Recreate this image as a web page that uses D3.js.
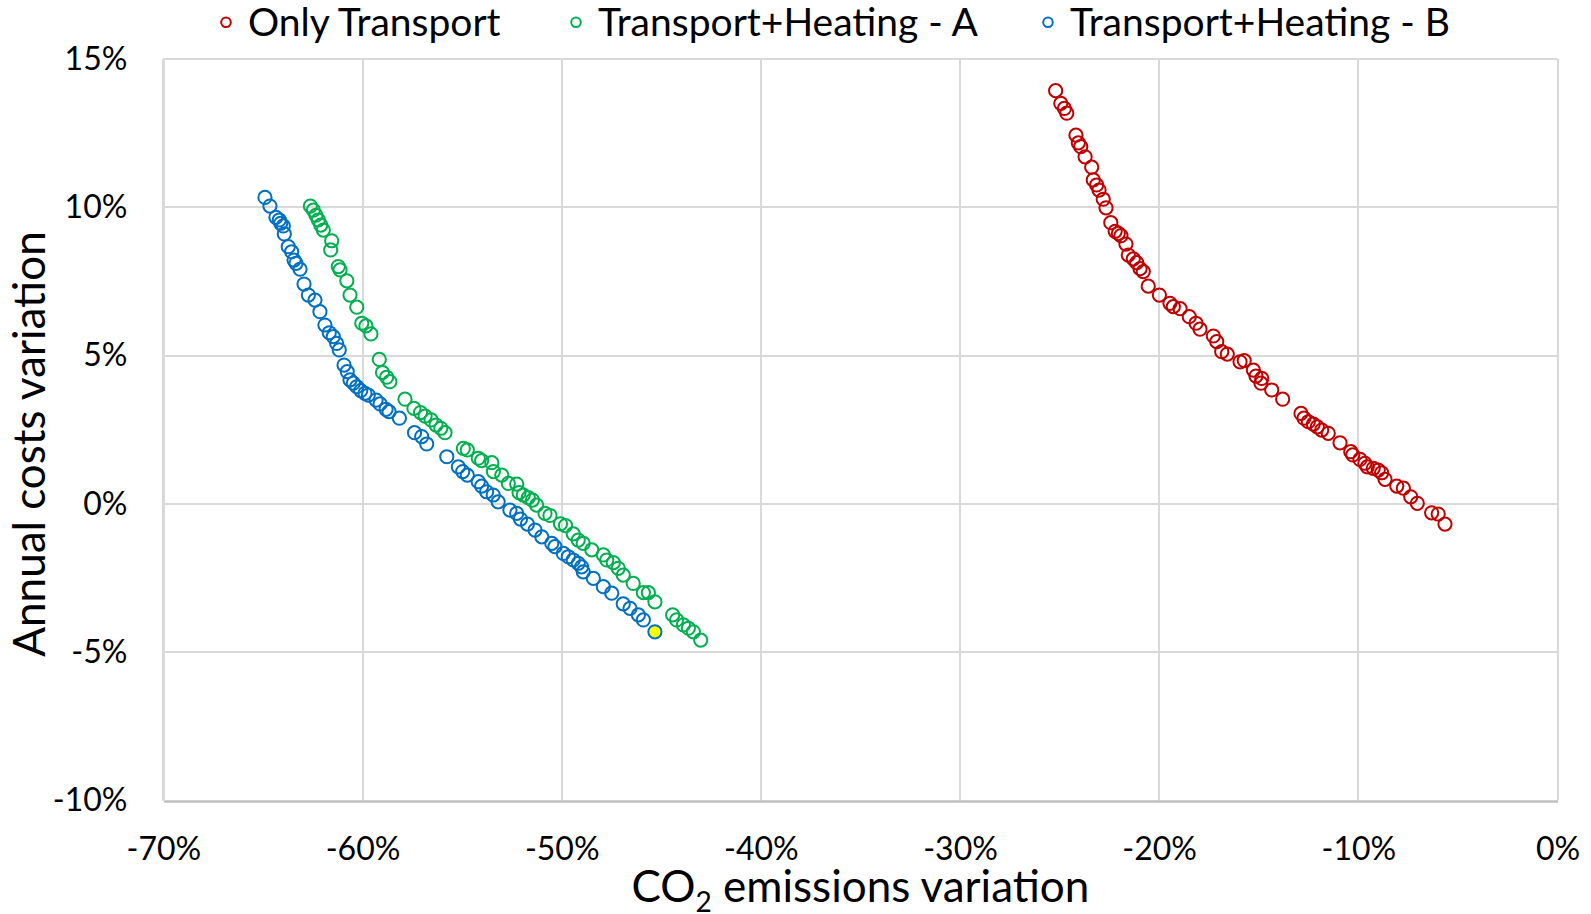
<!DOCTYPE html>
<html>
<head>
<meta charset="utf-8">
<script src="https://cdn.jsdelivr.net/npm/d3@7"></script>
<style>
  html, body { margin: 0; padding: 0; background: #fff; }
  svg { display: block; }
  text { font-family: Lato, "Open Sans", sans-serif; fill: #000; }
</style>
</head>
<body>
<svg id="chart" width="1591" height="914"></svg>
<script>
// ---- Data (values in %) ----
const seriesNames = ["Only Transport", "Transport+Heating - A", "Transport+Heating - B"];
const seriesColors = ["#c00000", "#00b050", "#0070c0"];
const xTickValues = [-70, -60, -50, -40, -30, -20, -10, 0];
const yTickValues = [-10, -5, 0, 5, 10, 15];

const onlyTransportX = [-25.20,-24.94,-24.76,-24.64,-24.18,-24.06,-23.94,-23.72,-23.39,-23.31,
  -23.14,-23.02,-22.81,-22.67,-22.43,-22.21,-22.05,-21.92,-21.67,-21.55,
  -21.30,-21.13,-20.96,-20.80,-20.55,-19.99,-19.46,-19.29,-18.95,-18.49,
  -18.15,-17.95,-17.28,-17.11,-16.86,-16.58,-15.94,-15.73,-15.27,-15.14,
  -14.85,-14.89,-14.35,-13.80,-12.88,-12.73,-12.51,-12.26,-12.06,-11.84,
  -11.51,-10.92,-10.38,-10.28,-9.92,-9.67,-9.55,-9.25,-9.00,-8.83,
  -8.66,-8.07,-7.74,-7.37,-7.04,-6.32,-5.99,-5.65];
const onlyTransportY = [13.93,13.50,13.33,13.17,12.43,12.17,12.04,11.70,11.35,10.92,
  10.75,10.58,10.27,9.98,9.48,9.19,9.12,9.04,8.76,8.39,
  8.26,8.13,7.93,7.83,7.34,7.04,6.76,6.65,6.58,6.31,
  6.09,5.89,5.66,5.47,5.13,5.05,4.79,4.83,4.51,4.31,
  4.23,4.07,3.84,3.53,3.05,2.89,2.77,2.69,2.60,2.49,
  2.38,2.06,1.76,1.65,1.50,1.37,1.25,1.20,1.14,1.05,
  0.83,0.60,0.53,0.24,0.02,-0.30,-0.34,-0.68];

const heatingAX = [-62.62,-62.47,-62.34,-62.22,-62.10,-61.97,-61.55,-61.60,-61.22,-61.13,
  -60.79,-60.63,-60.29,-60.04,-59.83,-59.58,-59.16,-59.00,-58.79,-58.63,
  -57.87,-57.42,-57.09,-56.86,-56.56,-56.31,-56.07,-55.86,-54.94,-54.74,
  -54.19,-54.02,-53.51,-53.43,-53.01,-52.68,-52.26,-52.14,-51.93,-51.68,
  -51.47,-51.26,-50.84,-50.59,-50.06,-49.81,-49.42,-49.17,-48.92,-48.49,
  -47.91,-47.74,-47.41,-47.16,-46.91,-46.41,-45.90,-45.65,-45.32,-44.43,
  -44.23,-43.89,-43.64,-43.39,-43.02];
const heatingAY = [10.04,9.90,9.73,9.57,9.40,9.23,8.87,8.56,8.00,7.89,
  7.52,7.04,6.63,6.09,6.00,5.73,4.87,4.43,4.27,4.12,
  3.53,3.22,3.08,2.96,2.83,2.66,2.55,2.40,1.87,1.82,
  1.54,1.46,1.39,1.09,0.97,0.69,0.67,0.38,0.30,0.21,
  0.13,-0.04,-0.32,-0.39,-0.67,-0.73,-1.01,-1.22,-1.33,-1.55,
  -1.72,-1.89,-1.98,-2.17,-2.40,-2.68,-2.99,-2.99,-3.30,-3.74,
  -3.91,-4.08,-4.19,-4.31,-4.59];

const heatingBX = [-64.90,-64.65,-64.35,-64.18,-64.11,-63.98,-63.93,-63.73,-63.56,-63.44,
  -63.34,-63.14,-62.94,-62.72,-62.39,-62.14,-61.89,-61.67,-61.47,-61.30,
  -61.17,-60.93,-60.77,-60.63,-60.46,-60.29,-60.09,-59.88,-59.71,-59.32,
  -59.12,-58.82,-58.67,-58.15,-57.39,-57.03,-56.78,-55.77,-55.19,-54.97,
  -54.74,-54.19,-54.02,-53.77,-53.44,-53.19,-52.60,-52.26,-52.07,-51.72,
  -51.34,-51.00,-50.50,-50.34,-49.92,-49.67,-49.42,-49.17,-49.00,-48.92,
  -48.41,-47.91,-47.49,-46.91,-46.57,-46.15,-45.90];
const heatingBY = [10.33,10.04,9.66,9.57,9.46,9.37,9.10,8.67,8.50,8.22,
  8.11,7.91,7.41,7.04,6.87,6.48,6.03,5.77,5.64,5.41,
  5.19,4.68,4.46,4.18,4.07,3.95,3.82,3.73,3.67,3.50,
  3.37,3.19,3.11,2.89,2.40,2.27,2.02,1.59,1.25,1.09,
  0.97,0.75,0.60,0.41,0.30,0.07,-0.21,-0.32,-0.51,-0.68,
  -0.88,-1.11,-1.33,-1.44,-1.67,-1.78,-1.89,-2.00,-2.12,-2.29,
  -2.51,-2.79,-3.01,-3.37,-3.52,-3.74,-3.91];

// highlighted point of series B (yellow fill)
const highlightX = [-45.32];
const highlightY = [-4.31];

// ---- Layout ----
const svg = d3.select("#chart");
const plot = { left: 163.4, right: 1557.5, top: 58.9, bottom: 800.6 };

const x = d3.scaleLinear().domain([-70, 0]).range([plot.left, plot.right]);
const y = d3.scaleLinear().domain([-10, 15]).range([plot.bottom, plot.top]);
const pct = d => d + "%";

// gridlines
const grid = svg.append("g");
grid.selectAll("line.v").data(xTickValues).join("line")
  .attr("x1", d => Math.round(x(d))).attr("x2", d => Math.round(x(d)))
  .attr("y1", plot.top).attr("y2", plot.bottom)
  .attr("stroke", "#d9d9d9").attr("stroke-width", 2);
grid.selectAll("line.h").data(yTickValues.filter(v => v !== -10)).join("line")
  .attr("x1", plot.left).attr("x2", plot.right)
  .attr("y1", d => Math.round(y(d))).attr("y2", d => Math.round(y(d)))
  .attr("stroke", "#d9d9d9").attr("stroke-width", 2);

// x axis (bottom)
const xAxis = svg.append("g")
  .attr("transform", `translate(0,${Math.round(y(-10))})`)
  .call(d3.axisBottom(x).tickValues(xTickValues).tickFormat(pct).tickSize(0).tickPadding(36));
xAxis.select(".domain").attr("stroke", "#bfbfbf").attr("stroke-width", 2.5);
xAxis.selectAll("text").style("font-size", "32px").style("font-family", "Lato, 'Open Sans', sans-serif").attr("fill", "#000");

// y axis (left)
const yAxis = svg.append("g")
  .attr("transform", `translate(${plot.left},0)`)
  .call(d3.axisLeft(y).tickValues(yTickValues).tickFormat(pct).tickSize(0).tickPadding(36));
yAxis.select(".domain").attr("stroke", "#d9d9d9").attr("stroke-width", 2);
yAxis.selectAll("text").style("font-size", "32px").style("font-family", "Lato, 'Open Sans', sans-serif").attr("fill", "#000");

// series
const seriesData = [
  { name: seriesNames[0], color: seriesColors[0], xs: onlyTransportX, ys: onlyTransportY },
  { name: seriesNames[1], color: seriesColors[1], xs: heatingAX, ys: heatingAY },
  { name: seriesNames[2], color: seriesColors[2], xs: heatingBX, ys: heatingBY }
];
seriesData.forEach(s => {
  svg.append("g").selectAll("circle")
    .data(s.xs.map((v, i) => [v, s.ys[i]]))
    .join("circle")
    .attr("cx", d => x(d[0])).attr("cy", d => y(d[1]))
    .attr("r", 6.6)
    .attr("fill", "none")
    .attr("stroke", s.color)
    .attr("stroke-width", 2);
});
svg.append("g").selectAll("circle")
  .data(highlightX.map((v, i) => [v, highlightY[i]]))
  .join("circle")
  .attr("cx", d => x(d[0])).attr("cy", d => y(d[1]))
  .attr("r", 6.6)
  .attr("fill", "#ffff00")
  .attr("stroke", seriesColors[2])
  .attr("stroke-width", 2);

// legend
const legendMarkerX = [226, 576, 1048];
const legend = svg.append("g");
seriesData.forEach((s, i) => {
  legend.append("circle")
    .attr("cx", legendMarkerX[i]).attr("cy", 22.3).attr("r", 4.8)
    .attr("fill", "none").attr("stroke", s.color).attr("stroke-width", 2);
  legend.append("text")
    .attr("x", legendMarkerX[i] + 22).attr("y", 35.5)
    .style("font-size", "39px")
    .text(s.name);
});

// axis titles
svg.append("text")
  .attr("text-anchor", "middle")
  .attr("transform", `translate(45,444) rotate(-90)`)
  .style("font-size", "44px")
  .text("Annual costs variation");

const xt = svg.append("text")
  .attr("x", x(-35)).attr("y", 902)
  .attr("text-anchor", "middle")
  .style("font-size", "44px");
xt.append("tspan").text("CO");
xt.append("tspan").attr("dy", 10).style("font-size", "28px").text("2");
xt.append("tspan").attr("dy", -10).text(" emissions variation");
</script>
</body>
</html>
